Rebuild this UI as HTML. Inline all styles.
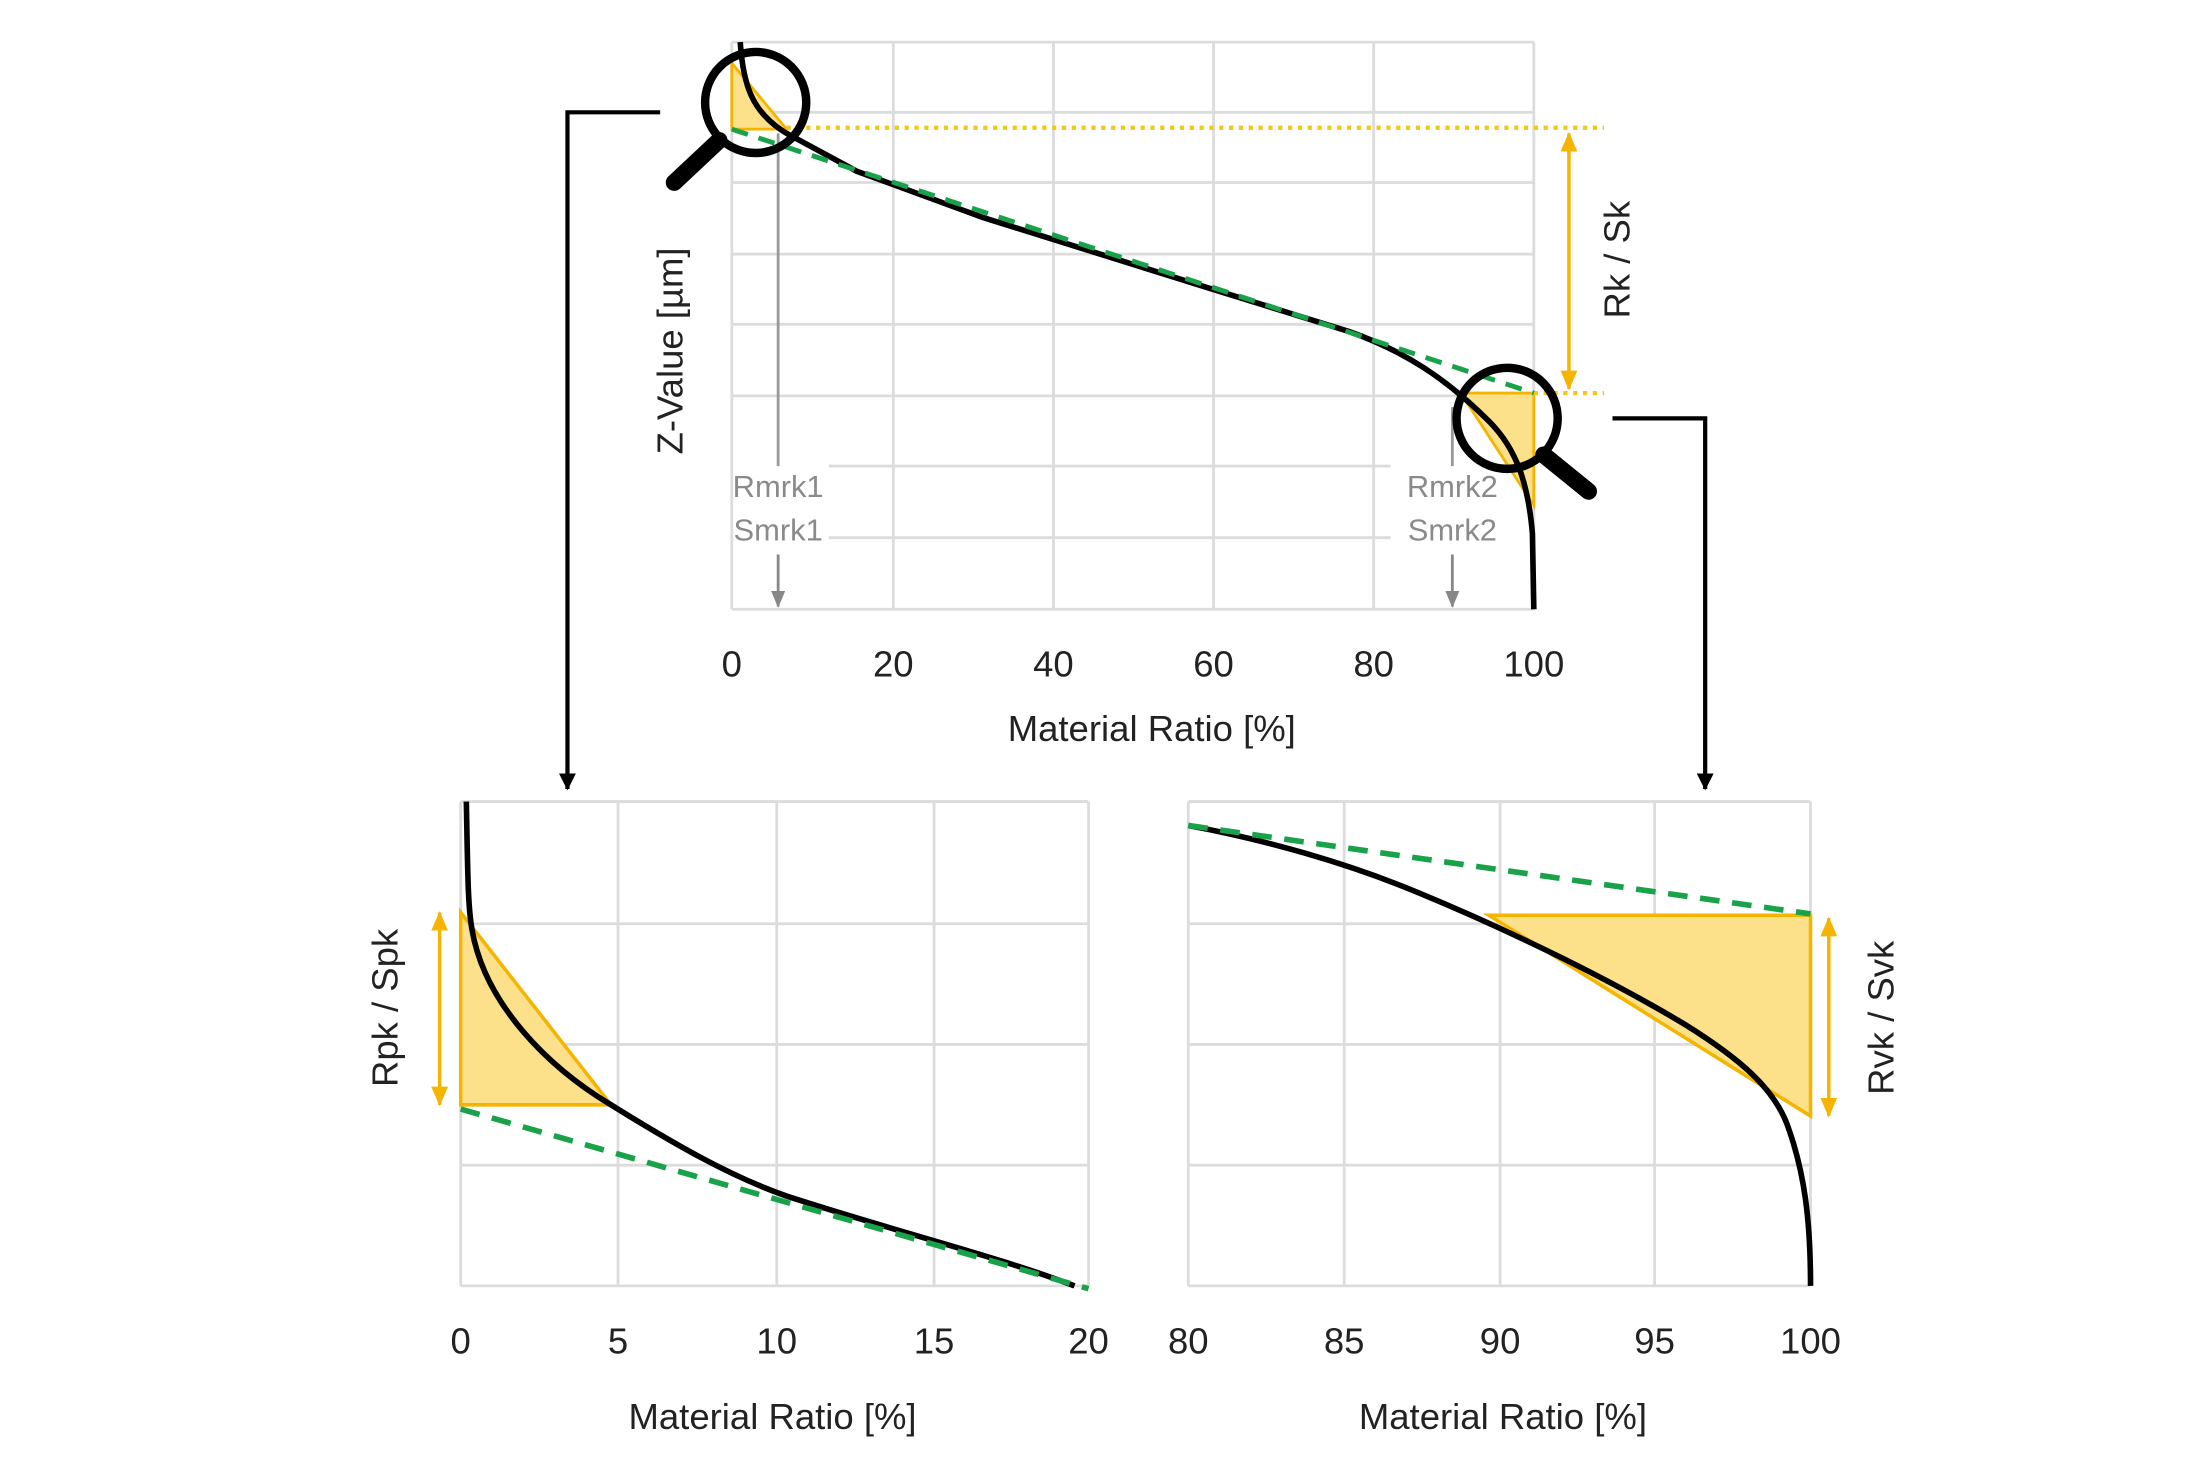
<!DOCTYPE html>
<html><head><meta charset="utf-8"><style>
html,body{margin:0;padding:0;background:#fff;}
svg{display:block;}
text{font-family:"Liberation Sans",sans-serif;}
</style></head><body>
<svg width="2201" height="1467" viewBox="0 0 1567 1045" preserveAspectRatio="none" xmlns="http://www.w3.org/2000/svg">
<defs>
<marker id="ab" markerWidth="12" markerHeight="12" refX="11" refY="6" orient="auto" markerUnits="userSpaceOnUse"><path d="M0,0 L12,6 L0,12 Z" fill="#000"/></marker>
<marker id="ag" markerWidth="12" markerHeight="10" refX="11" refY="5" orient="auto" markerUnits="userSpaceOnUse"><path d="M0,0 L12,5 L0,10 Z" fill="#888"/></marker>
<marker id="ay" markerWidth="14" markerHeight="12" refX="13" refY="6" orient="auto-start-reverse" markerUnits="userSpaceOnUse"><path d="M0,0 L14,6 L0,12 Z" fill="#f5b400"/></marker>
</defs>

<!-- TOP CHART grid -->
<g stroke="#dcdcdc" stroke-width="2" fill="none">
<line x1="521" y1="30" x2="1092" y2="30"/>
<line x1="521" y1="80" x2="1092" y2="80"/>
<line x1="521" y1="130" x2="1092" y2="130"/>
<line x1="521" y1="181" x2="1092" y2="181"/>
<line x1="521" y1="231" x2="1092" y2="231"/>
<line x1="521" y1="282" x2="1092" y2="282"/>
<line x1="590" y1="332" x2="990" y2="332"/>
<line x1="590" y1="383" x2="990" y2="383"/>
<line x1="521" y1="434" x2="1092" y2="434"/>
<line x1="521" y1="30" x2="521" y2="434"/>
<line x1="636" y1="30" x2="636" y2="434"/>
<line x1="750" y1="30" x2="750" y2="434"/>
<line x1="864" y1="30" x2="864" y2="434"/>
<line x1="978" y1="30" x2="978" y2="434"/>
<line x1="1092" y1="30" x2="1092" y2="434"/>
</g>
<path d="M521,45 L521,92 L560,92 Z" fill="#fde08a" stroke="#f5b400" stroke-width="2"/>
<path d="M1040,280 L1092,280 L1092,360 Z" fill="#fde08a" stroke="#f5b400" stroke-width="2"/>
<line x1="560" y1="91" x2="1142" y2="91" stroke="#f5c518" stroke-width="3" stroke-dasharray="3,4"/>
<line x1="1092" y1="280" x2="1142" y2="280" stroke="#f5c518" stroke-width="3" stroke-dasharray="3,4"/>
<line x1="1117" y1="95" x2="1117" y2="277" stroke="#f5b400" stroke-width="2.5" marker-start="url(#ay)" marker-end="url(#ay)"/>
<line x1="554" y1="95" x2="554" y2="332" stroke="#999" stroke-width="2"/>
<line x1="554" y1="395" x2="554" y2="432" stroke="#888" stroke-width="2" marker-end="url(#ag)"/>
<line x1="1034" y1="290" x2="1034" y2="332" stroke="#999" stroke-width="2"/>
<line x1="1034" y1="395" x2="1034" y2="432" stroke="#888" stroke-width="2" marker-end="url(#ag)"/>
<g font-size="22" fill="#8a8a8a" text-anchor="middle">
<text x="554" y="354">Rmrk1</text><text x="554" y="385">Smrk1</text>
<text x="1034" y="354">Rmrk2</text><text x="1034" y="385">Smrk2</text>
</g>
<path d="M527,30 C529,60 535,80 560,95 L610,122 L700,155 L860,205 L960,236 C1000,250 1030,270 1060,300 C1080,320 1088,345 1091,380 L1092,434" fill="none" stroke="#000" stroke-width="4"/>
<line x1="521" y1="92" x2="1092" y2="280" stroke="#1aa24a" stroke-width="3.5" stroke-dasharray="12,8"/>
<circle cx="538" cy="73" r="36" fill="none" stroke="#000" stroke-width="6"/>
<line x1="512" y1="100" x2="480" y2="130" stroke="#000" stroke-width="12" stroke-linecap="round"/>
<circle cx="1073" cy="298" r="36" fill="none" stroke="#000" stroke-width="6"/>
<line x1="1099" y1="324" x2="1131" y2="350" stroke="#000" stroke-width="12" stroke-linecap="round"/>
<g font-size="26" fill="#222" text-anchor="middle">
<text x="521" y="482">0</text><text x="636" y="482">20</text><text x="750" y="482">40</text>
<text x="864" y="482">60</text><text x="978" y="482">80</text><text x="1092" y="482">100</text>
<text x="820" y="528">Material Ratio [%]</text>
<text transform="translate(486,250) rotate(-90)">Z-Value [µm]</text>
<text transform="translate(1160,185) rotate(-90)">Rk / Sk</text>
</g>
<polyline points="470,80 404,80 404,562" fill="none" stroke="#000" stroke-width="3" marker-end="url(#ab)"/>
<polyline points="1148,298 1214,298 1214,562" fill="none" stroke="#000" stroke-width="3" marker-end="url(#ab)"/>

<!-- BOTTOM LEFT -->
<g stroke="#dcdcdc" stroke-width="2" fill="none">
<line x1="328" y1="571" x2="775" y2="571"/>
<line x1="328" y1="658" x2="775" y2="658"/>
<line x1="328" y1="744" x2="775" y2="744"/>
<line x1="328" y1="830" x2="775" y2="830"/>
<line x1="328" y1="916" x2="775" y2="916"/>
<line x1="328" y1="571" x2="328" y2="916"/>
<line x1="440" y1="571" x2="440" y2="916"/>
<line x1="553" y1="571" x2="553" y2="916"/>
<line x1="665" y1="571" x2="665" y2="916"/>
<line x1="775" y1="571" x2="775" y2="916"/>
</g>
<path d="M328,650 L328,787 L435,787 Z" fill="#fde08a" stroke="#f5b400" stroke-width="2.5"/>
<line x1="313" y1="650" x2="313" y2="787" stroke="#f5b400" stroke-width="2.5" marker-start="url(#ay)" marker-end="url(#ay)"/>
<path d="M332,571 C333,620 333,645 336,662 C345,715 390,760 435,787 C480,815 520,838 560,852 C640,878 710,895 765,916" fill="none" stroke="#000" stroke-width="4"/>
<line x1="328" y1="790" x2="775" y2="918" stroke="#1aa24a" stroke-width="4" stroke-dasharray="14,9"/>
<g font-size="26" fill="#222" text-anchor="middle">
<text x="328" y="964">0</text><text x="440" y="964">5</text><text x="553" y="964">10</text>
<text x="665" y="964">15</text><text x="775" y="964">20</text>
<text x="550" y="1018">Material Ratio [%]</text>
<text transform="translate(283,718) rotate(-90)">Rpk / Spk</text>
</g>

<!-- BOTTOM RIGHT -->
<g stroke="#dcdcdc" stroke-width="2" fill="none">
<line x1="846" y1="571" x2="1289" y2="571"/>
<line x1="846" y1="658" x2="1289" y2="658"/>
<line x1="846" y1="744" x2="1289" y2="744"/>
<line x1="846" y1="830" x2="1289" y2="830"/>
<line x1="846" y1="916" x2="1289" y2="916"/>
<line x1="846" y1="571" x2="846" y2="916"/>
<line x1="957" y1="571" x2="957" y2="916"/>
<line x1="1068" y1="571" x2="1068" y2="916"/>
<line x1="1178" y1="571" x2="1178" y2="916"/>
<line x1="1289" y1="571" x2="1289" y2="916"/>
</g>
<path d="M1060,652 L1289,652 L1289,795 Z" fill="#fde08a" stroke="#f5b400" stroke-width="2.5"/>
<line x1="1302" y1="654" x2="1302" y2="795" stroke="#f5b400" stroke-width="2.5" marker-start="url(#ay)" marker-end="url(#ay)"/>
<path d="M846,588 C900,598 960,615 1010,636 C1080,665 1150,700 1200,730 C1240,755 1262,775 1272,800 C1285,835 1289,870 1289,916" fill="none" stroke="#000" stroke-width="4"/>
<line x1="846" y1="588" x2="1289" y2="651" stroke="#1aa24a" stroke-width="4" stroke-dasharray="14,9"/>
<g font-size="26" fill="#222" text-anchor="middle">
<text x="846" y="964">80</text><text x="957" y="964">85</text><text x="1068" y="964">90</text>
<text x="1178" y="964">95</text><text x="1289" y="964">100</text>
<text x="1070" y="1018">Material Ratio [%]</text>
<text transform="translate(1348,725) rotate(-90)">Rvk / Svk</text>
</g>
</svg>
</body></html>
